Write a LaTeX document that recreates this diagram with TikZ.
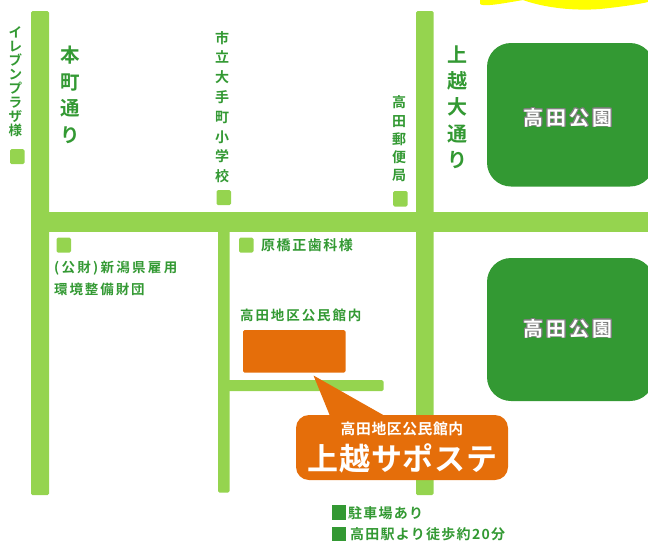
\documentclass[tikz,border=0pt]{standalone}
\usepackage{fontspec}
\usepackage[copies]{contour}
\setmainfont{Noto Sans CJK JP}[BoldFont={* Bold}]
\newcommand{\fs}[2]{\fontsize{#1}{#2}\selectfont}
\newcommand{\ls}[1]{\addfontfeature{LetterSpace=#1}}
\definecolor{roadgreen}{HTML}{95D44F}
\definecolor{darkgreen}{HTML}{339933}
\definecolor{orangefill}{HTML}{E56E0A}
\definecolor{sunyellow}{HTML}{FFFF00}
\contourlength{0.7pt}
\tikzset{
  road/.style={fill=roadgreen,draw=none,rounded corners=1.5pt},
  marker/.style={fill=roadgreen,draw=none,rounded corners=1.5pt},
  legendsq/.style={fill=darkgreen,draw=none},
  park/.style={fill=darkgreen,draw=none,rounded corners=24pt},
  place/.style={fill=orangefill,draw=none,rounded corners=1.5pt},
  greentext/.style={text=darkgreen,inner sep=0pt,font=\bfseries},
  vtext/.style={greentext,align=center},
  whitetext/.style={text=white,inner sep=0pt,font=\bfseries},
}
\begin{document}
\begin{tikzpicture}[x=1pt,y=-1pt]
\useasboundingbox (0,0) rectangle (648,541);
\clip (0,0) rectangle (648,541);
% yellow shape at the top edge
\fill[sunyellow] (480,0) -- (480,4) .. controls (483,7) and (500,4) .. (523,0) .. controls (545,8) and (575,11) .. (600,9) .. controls (620,7) and (640,4) .. (648,2) -- (648,0) -- cycle;
% roads
\fill[road] (31,11) rectangle (49,495);
\fill[road] (416,11) rectangle (433.5,495);
\fill[road] (218,225) rectangle (229.5,492.5);
\fill[road] (225,380) rectangle (383.5,391);
\fill[roadgreen] (31,212) rectangle (648,232);
% parks
\fill[park] (487,43) rectangle (654,186.5);
\fill[park] (487,258) rectangle (654,401);
% markers
\fill[marker] (10,149) rectangle (24.5,164);
\fill[marker] (216.5,190) rectangle (231,205);
\fill[marker] (393,191) rectangle (407.5,206.5);
\fill[marker] (56.5,237.5) rectangle (71,252.5);
\fill[marker] (239,237.5) rectangle (253.5,252.5);
% orange location and callout
\fill[place] (243,330) rectangle (345.5,372.5);
\fill[orangefill] (313.5,375.5) -- (330,416) -- (385,416) -- cycle;
\fill[orangefill,rounded corners=13pt] (296,415) rectangle (508,480);
% legend squares
\fill[legendsq] (331.5,505) rectangle (346,520);
\fill[legendsq] (331.5,527) rectangle (346,541);
% vertical labels
\node[vtext,font=\bfseries\fs{13.5}{14}] (plaza) at (15.5,82) {イ\\レ\\ブ\\ン\\プ\\ラ\\ザ\\様};
\node[vtext,font=\bfseries\fs{19.5}{26.5}] (honcho) at (70,95) {本\\町\\通\\り};
\node[vtext,font=\bfseries\fs{14}{19.8}] (school) at (222,107) {市\\立\\大\\手\\町\\小\\学\\校};
\node[vtext,font=\bfseries\fs{14}{18.3}] (post) at (399,139) {高\\田\\郵\\便\\局};
\node[vtext,font=\bfseries\fs{20}{26.3}] (joetsu) at (457,107) {上\\越\\大\\通\\り};
% horizontal labels
\node[greentext,anchor=west,font=\bfseries\fs{14}{16}\ls{11}] (dental) at (261,245) {原橋正歯科様};
\node[greentext,anchor=west,font=\bfseries\fs{13.5}{16}\ls{17}] (found1) at (54,268) {(公財)新潟県雇用};
\node[greentext,anchor=west,font=\bfseries\fs{13.5}{16}\ls{14}] (found2) at (54,289) {環境整備財団};
\node[greentext,anchor=west,font=\bfseries\fs{13.5}{16}\ls{14}] (hall) at (240,315.5) {高田地区公民館内};
\node[greentext,anchor=west,font=\bfseries\fs{14}{16}\ls{9}] (parking) at (348,513) {駐車場あり};
\node[greentext,anchor=west,font=\bfseries\fs{14}{16}\ls{9}] (walk) at (350,534.5) {高田駅より徒歩約20分};
% park labels
\node[inner sep=0pt,text=white,font=\bfseries\fs{20}{22}\ls{15}] (park1) at (568,118) {\contour{gray}{高田公園}};
\node[inner sep=0pt,text=white,font=\bfseries\fs{20}{22}\ls{15}] (park2) at (568,329) {\contour{gray}{高田公園}};
% callout labels
\node[whitetext,font=\bfseries\fs{14.8}{16}\ls{4}] (calltop) at (402,429) {高田地区公民館内};
\node[whitetext,font=\bfseries\fs{31}{34}\ls{2}] (callmain) at (402.5,458) {上越サポステ};
\end{tikzpicture}
\end{document}
